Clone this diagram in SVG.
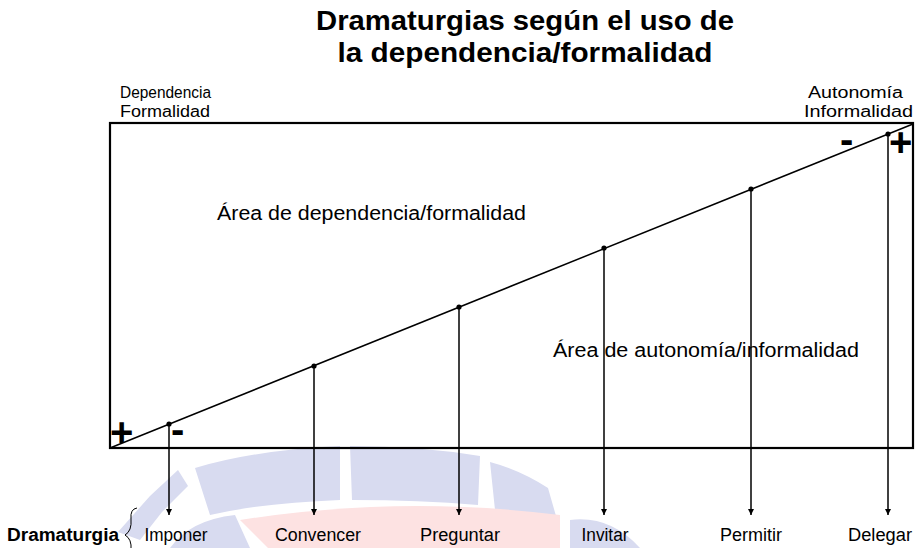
<svg xmlns="http://www.w3.org/2000/svg" width="924" height="548" viewBox="0 0 924 548">
<defs>
<style>
text{font-family:"Liberation Sans",Arial,sans-serif;fill:#000}
.title{font-size:28px;font-weight:bold;text-anchor:middle}
.corner{font-size:16px}
.area{font-size:20px}
.lbl{font-size:18px;text-anchor:middle}
.sign{font-size:40px;font-weight:bold}
.ln{stroke:#000;stroke-width:1.5;fill:none}
.box{stroke:#000;stroke-width:2.2;fill:none}
.dot{fill:#000}
.wb{fill:#d8dbf0}
.wp{fill:#fde2e2}
</style>
<marker id="arr" viewBox="0 0 10 10" refX="10" refY="5" markerWidth="6" markerHeight="6" markerUnits="userSpaceOnUse" orient="auto">
<path d="M0,0 L10,5 L0,10 z" fill="#000"/>
</marker>
</defs>
<rect width="924" height="548" fill="#fff"/>
<g id="watermark">
<path class="wb" d="M118,532 L150,496 L178,470 L188,486 L162,512 L140,540 Z"/>
<path class="wb" d="M195,468 Q255,450 340,446 L340,500 Q262,503 210,515 Z"/>
<path class="wb" d="M350,446 Q420,446 480,456 L478,505 Q420,500 352,500 Z"/>
<path class="wb" d="M490,462 Q520,470 548,488 L560,530 L528,518 L495,510 Z"/>
<path class="wp" d="M240,520 Q400,495 560,515 L560,548 L268,548 Z"/>
<path class="wb" d="M170,548 Q190,520 235,515 L250,548 Z"/>
<path class="wb" d="M570,520 Q610,515 640,548 L570,548 Z"/>
</g>
<g id="title">
<text class="title" x="525" y="30" textLength="418" lengthAdjust="spacingAndGlyphs">Dramaturgias según el uso de</text>
<text class="title" x="525" y="62" textLength="375" lengthAdjust="spacingAndGlyphs">la dependencia/formalidad</text>
</g>
<g id="frame">
<rect class="box" x="110" y="123" width="803" height="325"/>
</g>
<g id="corner-left">
<text class="corner" x="120" y="98" textLength="91" lengthAdjust="spacingAndGlyphs">Dependencia</text>
<text class="corner" x="120" y="117" textLength="90" lengthAdjust="spacingAndGlyphs">Formalidad</text>
</g>
<g id="corner-right">
<text class="corner" x="808" y="98" textLength="95" lengthAdjust="spacingAndGlyphs">Autonomía</text>
<text class="corner" x="804" y="117" textLength="109" lengthAdjust="spacingAndGlyphs">Informalidad</text>
</g>
<g id="area-dependencia">
<text class="area" x="217" y="220" textLength="309" lengthAdjust="spacingAndGlyphs">Área de dependencia/formalidad</text>
</g>
<g id="area-autonomia">
<text class="area" x="553" y="357" textLength="306" lengthAdjust="spacingAndGlyphs">Área de autonomía/informalidad</text>
</g>
<g id="signs">
<text class="sign" x="110" y="446">+</text>
<text class="sign" x="171" y="443">-</text>
<text class="sign" x="840" y="153">-</text>
<text class="sign" x="889" y="156">+</text>
</g>
<g id="connectors">
<line class="ln" x1="110" y1="448" x2="913" y2="124" stroke-width="2"/>
<line class="ln" x1="169" y1="424" x2="169" y2="515" marker-end="url(#arr)"/>
<line class="ln" x1="314" y1="366" x2="314" y2="515" marker-end="url(#arr)"/>
<line class="ln" x1="459" y1="307" x2="459" y2="515" marker-end="url(#arr)"/>
<line class="ln" x1="604" y1="248" x2="604" y2="515" marker-end="url(#arr)"/>
<line class="ln" x1="751" y1="189" x2="751" y2="515" marker-end="url(#arr)"/>
<line class="ln" x1="888" y1="134" x2="888" y2="515" marker-end="url(#arr)"/>
<circle class="dot" cx="169" cy="424" r="2.6"/>
<circle class="dot" cx="314" cy="366" r="2.6"/>
<circle class="dot" cx="459" cy="307" r="2.6"/>
<circle class="dot" cx="604" cy="248" r="2.6"/>
<circle class="dot" cx="751" cy="189" r="2.6"/>
<circle class="dot" cx="888" cy="134" r="2.6"/>
</g>
<g id="dramaturgia">
<text x="7" y="541" font-size="18" font-weight="bold" textLength="112" lengthAdjust="spacingAndGlyphs">Dramaturgia</text>
<path d="M137,508 Q130,509 131,519 Q132,531 125,535 Q132,539 131,550 Q130,558 137,560" fill="none" stroke="#000" stroke-width="1"/>
</g>
<g id="imponer"><text class="lbl" x="176" y="541" textLength="63" lengthAdjust="spacingAndGlyphs">Imponer</text></g>
<g id="convencer"><text class="lbl" x="318" y="541" textLength="86" lengthAdjust="spacingAndGlyphs">Convencer</text></g>
<g id="preguntar"><text class="lbl" x="460" y="541" textLength="80" lengthAdjust="spacingAndGlyphs">Preguntar</text></g>
<g id="invitar"><text class="lbl" x="605" y="541" textLength="47" lengthAdjust="spacingAndGlyphs">Invitar</text></g>
<g id="permitir"><text class="lbl" x="751" y="541" textLength="62" lengthAdjust="spacingAndGlyphs">Permitir</text></g>
<g id="delegar"><text class="lbl" x="880" y="541" textLength="64" lengthAdjust="spacingAndGlyphs">Delegar</text></g>
</svg>
